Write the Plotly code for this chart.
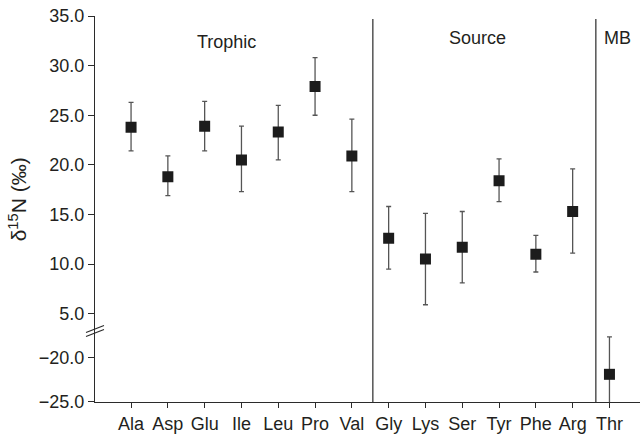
import plotly.graph_objects as go
from plotly.subplots import make_subplots

# ---- data ----
amino_acids = ["Ala", "Asp", "Glu", "Ile", "Leu", "Pro", "Val",
               "Gly", "Lys", "Ser", "Tyr", "Phe", "Arg", "Thr"]
d15n_mean = [23.8, 18.8, 23.9, 20.5, 23.3, 27.9, 20.9,
             12.6, 10.5, 11.7, 18.4, 11.0, 15.3, -21.9]
d15n_upper = [26.3, 20.9, 26.4, 23.9, 26.0, 30.8, 24.6,
              15.8, 15.1, 15.3, 20.6, 12.9, 19.6, -17.7]
d15n_lower = [21.4, 16.9, 21.4, 17.3, 20.5, 25.0, 17.3,
              9.5, 5.9, 8.1, 16.3, 9.2, 11.1, -25.7]
groups = ["Trophic", "Source", "MB"]
top_ticks = [5, 10, 15, 20, 25, 30, 35]
bottom_ticks = [-25, -20]

FONT = "Liberation Sans, Arial, sans-serif"
TXT = "#231f20"
AX = "#2b2b2b"

err_plus = [u - m for u, m in zip(d15n_upper, d15n_mean)]
err_minus = [m - l for m, l in zip(d15n_mean, d15n_lower)]

fig = make_subplots(rows=2, cols=1, shared_xaxes=True, vertical_spacing=0,
                    row_heights=[317, 72])

def subset(cond):
    idx = [i for i, v in enumerate(d15n_mean) if cond(v)]
    return ([amino_acids[i] for i in idx], [d15n_mean[i] for i in idx],
            [err_plus[i] for i in idx], [err_minus[i] for i in idx])

for row, cond, clip in [(1, lambda v: v > 0, True), (2, lambda v: v <= 0, False)]:
    xs, ys, ep, em = subset(cond)
    fig.add_trace(go.Scatter(
        x=xs, y=ys, mode="markers", cliponaxis=clip, showlegend=False,
        marker=dict(symbol="square", size=11, color="#1c1c1c", line=dict(width=0)),
        error_y=dict(type="data", symmetric=False, array=ep, arrayminus=em,
                     color="#555555", thickness=1.3, width=2.5),
    ), row=row, col=1)

axis_common = dict(showgrid=False, zeroline=False, showline=True, linecolor=AX,
                   linewidth=1.2, ticks="outside", tickcolor=AX, tickwidth=1.2,
                   tickfont=dict(family=FONT, size=18, color=TXT))

fig.update_xaxes(type="category", categoryorder="array", categoryarray=amino_acids,
                 range=[-0.98, 13.83])
fig.update_xaxes(showline=False, showticklabels=False, ticks="", showgrid=False,
                 zeroline=False, row=1, col=1)
fig.update_xaxes(ticklen=5, row=2, col=1, **axis_common)

fig.update_yaxes(range=[3.3, 35], tickvals=top_ticks, tickformat=".1f", ticklen=6,
                 row=1, col=1, **axis_common)
fig.update_yaxes(range=[-25, -17], tickvals=bottom_ticks, tickformat=".1f", ticklen=6,
                 row=2, col=1, **axis_common)

# group separators
for xs in [6.57, 12.63]:
    fig.add_shape(type="line", xref="x2", yref="paper", x0=xs, x1=xs, y0=0, y1=0.992,
                  line=dict(color="#3a3a3a", width=1.3))

# axis break marks
brk = 72 / 389
for y0, y1 in [(-2, 5), (-6, 1)]:
    fig.add_shape(type="line", xref="paper", yref="paper",
                  xsizemode="pixel", xanchor=0, x0=-9, x1=9,
                  ysizemode="pixel", yanchor=brk, y0=y0, y1=y1,
                  line=dict(color=AX, width=1.2))

# group labels
for name, gx, gy in zip(groups, [2.58, 9.41, 13.23], [32.4, 32.8, 32.8]):
    fig.add_annotation(text=name, x=gx, y=gy, xref="x", yref="y", showarrow=False,
                       font=dict(family=FONT, size=18, color=TXT))

# y-axis title
fig.add_annotation(text="δ<sup>15</sup>N (‰)", xref="paper", yref="paper",
                   x=0, y=0.525, xshift=-77, xanchor="center", yanchor="middle",
                   textangle=-90, showarrow=False,
                   font=dict(family=FONT, size=21, color=TXT))

fig.update_layout(width=640, height=434, margin=dict(l=95, r=0, t=16, b=29),
                  plot_bgcolor="white", paper_bgcolor="white")

fig.write_html("out.html")
